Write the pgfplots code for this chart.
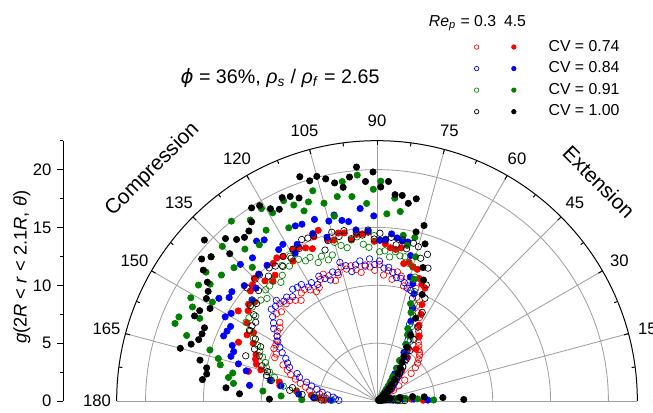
\documentclass[border=0pt]{standalone}
\usepackage{fontspec}
\setmainfont{Liberation Sans}
\newfontfamily\greekfont{DejaVu Sans}
\usepackage{pgfplots}
\usepackage{pgfplotstable}
\pgfplotsset{compat=1.18}

\definecolor{gridgray}{RGB}{160,160,160}
\definecolor{cvred}{RGB}{255,0,0}
\definecolor{cvblue}{RGB}{0,0,255}
\definecolor{cvgreen}{RGB}{0,128,0}

% g(2R < r < 2.1R, theta), theta in degrees (bin centres)
% lo = Re_p 0.3 (open marks), hi = Re_p 4.5 (filled marks)
% R: CV = 0.74, B: CV = 0.84, G: CV = 0.91, K: CV = 1.00
\pgfplotstableread{
t   Rlo  Rhi  Blo  Bhi  Glo  Ghi  Klo  Khi
1   2.0  4.0  1.8  4.4  2.2  4.9  2.4  7.5
3   1.6  3.0  1.4  3.2  1.7  3.5  1.8  5.7
5   1.2  2.2  1.1  2.3  1.3  2.5  1.4  4.1
7   0.9  1.5  0.8  1.5  1.0  1.7  1.0  3.1
9   0.7  1.0  0.6  1.0  0.7  1.1  0.8  2.0
11  0.5  0.65 0.45 0.6  0.5  0.7  0.6  1.2
13  0.4  0.45 0.35 0.4  0.4  0.45 0.45 0.7
15  0.3  0.3  0.3  0.3  0.3  0.3  0.35 0.45
17  0.25 0.25 0.25 0.2  0.25 0.25 0.3  0.3
19  0.2  0.2  0.2  0.2  0.2  0.2  0.25 0.25
21  0.2  0.2  0.2  0.15 0.2  0.2  0.2  0.2
23  0.25 0.2  0.2  0.15 0.2  0.15 0.2  0.2
25  0.3  0.2  0.25 0.15 0.25 0.15 0.25 0.2
27  0.5  0.25 0.3  0.2  0.3  0.2  0.3  0.25
29  0.8  0.3  0.4  0.2  0.35 0.2  0.35 0.3
31  1.2  0.35 0.5  0.2  0.4  0.25 0.45 0.3
33  1.7  0.4  0.6  0.25 0.5  0.3  0.55 0.35
35  2.3  0.5  0.8  0.3  0.6  0.3  0.7  0.4
37  3.0  0.9  1.0  0.35 0.7  0.35 0.85 0.5
39  3.8  1.6  1.2  0.4  0.85 0.4  1.0  0.6
41  4.4  1.3  1.5  0.45 1.0  0.5  1.2  0.75
43  4.8  1.7  1.8  0.55 1.2  0.55 1.5  0.95
45  5.1  2.0  2.1  0.65 1.4  0.65 1.8  1.2
47  5.4  2.3  2.4  0.8  1.7  0.8  2.2  1.5
49  5.6  2.9  2.8  1.0  2.0  1.0  2.6  1.9
51  5.7  3.4  3.2  1.3  2.4  1.3  3.1  2.4
53  6.0  5.6  3.7  1.7  2.9  1.6  3.7  3.0
55  6.2  4.6  4.2  2.2  3.4  2.0  4.4  3.5
57  6.6  6.7  4.6  2.8  4.0  2.5  5.2  4.0
59  7.0  5.3  5.0  3.3  4.8  3.3  6.2  4.5
61  7.4  7.5  5.4  4.8  5.9  4.0  7.3  5.3
63  8.1  8.4  5.9  5.5  6.3  5.5  8.6  6.4
65  8.4  9.2  6.3  6.6  7.1  6.3  9.8  7.9
67  9.0  10.6 7.2  7.5  8.0  6.8  10.9 10.0
69  9.6  10.8 8.6  8.6  9.0  8.2  12.3 11.2
71  10.3 11.2 9.4  9.8  10.0 8.9  13.4 12.2
73  10.0 11.9 10.0 10.6 11.2 11.0 12.9 14.2
75  10.6 12.0 10.1 11.1 12.0 12.9 13.8 15.7
77  10.2 12.3 10.5 12.9 12.2 14.5 14.0 15.0
79  11.0 12.1 10.8 14.0 12.7 13.7 13.4 17.8
81  11.3 13.4 10.8 14.0 12.7 14.5 14.1 17.3
83  10.6 13.2 11.2 14.2 13.0 16.5 13.6 17.9
85  11.3 13.3 11.6 14.5 12.5 17.6 14.2 17.9
87  10.9 13.6 11.5 14.0 13.0 16.2 13.9 19.0
89  11.8 13.9 12.1 13.9 12.9 19.0 14.5 18.5
91  11.3 13.8 11.8 16.0 14.3 18.3 14.0 19.8
93  11.6 14.6 12.3 14.7 13.3 17.1 14.8 19.0
95  11.8 14.5 11.7 16.7 13.6 19.6 14.4 20.3
97  11.2 14.5 12.2 14.9 14.3 17.8 14.7 19.5
99  11.5 14.1 11.9 15.7 14.1 19.2 14.2 18.7
101 11.9 14.8 11.4 15.9 13.5 18.0 15.0 19.2
103 11.7 14.9 12.0 16.5 13.8 16.4 14.6 19.7
105 12.0 14.4 12.4 16.1 14.2 17.7 15.1 20.1
107 11.4 14.6 11.6 14.8 13.2 19.0 14.5 19.9
109 11.0 15.6 11.8 16.6 12.9 18.2 13.8 20.5
111 11.6 15.2 11.2 15.5 13.4 17.6 15.3 18.8
113 11.9 14.3 11.5 16.6 13.0 18.4 15.3 19.2
115 11.6 14.6 11.9 16.7 13.7 19.1 15.4 19.4
117 11.0 14.9 11.3 15.2 13.6 16.8 14.8 18.6
119 10.8 15.0 11.7 14.6 14.0 18.6 15.0 19.0
121 11.2 14.1 11.5 15.8 14.6 19.4 14.4 19.7
123 11.5 14.9 12.0 15.6 13.9 17.6 14.9 19.9
125 11.4 15.1 12.0 17.0 14.3 19.1 14.2 18.9
127 10.9 14.9 12.1 17.3 13.6 16.9 14.6 18.4
129 11.2 14.0 11.6 15.1 13.2 20.0 14.8 18.2
131 11.5 13.7 11.9 16.4 13.8 17.4 14.3 18.5
133 11.5 14.2 11.8 15.0 13.6 15.8 14.9 19.2
135 11.9 15.0 12.3 16.7 13.6 18.9 14.9 18.0
137 11.3 14.7 12.0 14.3 13.0 16.9 14.0 20.4
139 11.5 14.5 12.1 15.2 13.3 19.0 14.9 19.0
141 10.8 13.6 11.6 13.9 13.8 17.3 13.4 19.5
143 10.5 13.9 11.2 15.7 13.5 18.5 13.7 18.8
145 10.5 13.6 10.9 15.6 12.8 17.6 13.0 17.9
147 10.3 14.3 10.3 16.3 13.2 18.4 12.5 17.4
149 10.1 13.1 10.0 14.7 13.2 16.6 12.6 17.2
151 10.0 12.2 9.6  15.0 12.5 18.4 12.6 16.5
153 10.0 12.6 9.2  14.2 12.0 17.9 11.8 17.2
155 9.6  11.8 8.7  14.3 11.4 16.9 11.1 17.4
157 9.6  13.0 8.4  14.4 11.0 18.6 11.5 16.2
159 8.7  11.2 8.1  13.4 10.6 18.7 10.9 16.2
161 8.2  11.1 7.3  13.1 10.2 17.4 12.0 16.3
163 7.8  10.9 7.0  13.2 10.0 15.1 10.4 16.8
165 7.3  10.4 6.3  12.4 9.6  14.2 9.8  17.6
167 6.8  11.4 5.8  11.6 9.1  13.9 9.8  15.7
169 6.3  8.6  5.3  9.4  9.4  12.7 9.3  15.0
171 5.9  8.5  4.8  8.4  8.2  13.0 7.4  14.9
173 5.0  7.0  4.3  11.1 7.0  12.5 7.6  15.2
175 4.6  5.7  3.8  6.8  5.5  9.9  6.5  13.1
177 4.4  5.1  3.6  5.5  4.6  8.3  5.4  11.9
179 4.6  4.5  3.3  4.0  3.9  6.5  4.8  9.3
}\gdata

\pgfplotsset{
  openpt/.style={only marks, data cs=polar, mark=o, mark size=1.95pt, line width=0.4pt, color=#1},
  fullpt/.style={only marks, data cs=polar, mark=*, mark size=1.9pt, color=#1, fill=#1},
}

\begin{document}
\begin{tikzpicture}
\begin{axis}[
  x=6.942pt, y=6.942pt,
  xmin=-27.11, xmax=23.85, ymin=0, ymax=22.5,
  axis x line=none,
  axis y line*=left,
  clip=false,
  ytick={0,5,10,15,20},
  minor ytick={2.5,7.5,12.5,17.5,22.5},
  ytick align=outside,
  major tick length=3.6pt,
  minor tick length=2pt,
  tick style={black, line width=0.6pt},
  axis line style={black, line width=0.6pt},
  /pgf/number format/assume math mode=true,
  yticklabel style={font=\fontsize{10}{12}\selectfont},
  ylabel={\textit{g}(2\textit{R} < \textit{r} < 2.1\textit{R}, \textit{θ})},
  ylabel style={font=\fontsize{11}{13}\selectfont, at={(axis cs:-30.7,11.55)}, anchor=center},
  legend columns=2,
  legend cell align=left,
  legend style={at={(axis cs:8.42,31.18)}, anchor=north west, draw=none, fill=none,
    inner sep=0pt, outer sep=0pt, row sep=4.8pt, column sep=0pt,
    font=\fontsize{9.5}{11}\selectfont, nodes={inner sep=0pt},
    /tikz/column 2/.style={column sep=18.6pt},
    /tikz/column 3/.style={column sep=19.5pt}},
  every axis plot post/.append style={legend image code/.code={\draw[##1, mark size=1.35pt] plot coordinates {(0pt,0pt)};}},
]

% polar grid: circles, spokes, base line
\pgfplotsinvokeforeach{5,10,15,20}{
  \draw[gridgray, line width=0.5pt] (axis cs:#1,0) arc[start angle=0, end angle=180, radius=#1*6.942pt];
}
\pgfplotsinvokeforeach{15,30,45,60,75,90,105,120,135,150,165}{
  \draw[gridgray, line width=0.5pt] (axis cs:0,0) -- (axis cs:{22.5*cos(#1)},{22.5*sin(#1)});
  \draw[black, line width=0.6pt] (axis cs:{22.5*cos(#1)},{22.5*sin(#1)}) -- (axis cs:{22.1*cos(#1)},{22.1*sin(#1)});
}
\pgfplotsinvokeforeach{7.5,22.5,37.5,52.5,67.5,82.5,97.5,112.5,127.5,142.5,157.5,172.5}{
  \draw[black, line width=0.6pt] (axis cs:{22.5*cos(#1)},{22.5*sin(#1)}) -- (axis cs:{22.2*cos(#1)},{22.2*sin(#1)});
}
\draw[gridgray, line width=0.5pt] (axis cs:-22.5,0) -- (axis cs:22.5,0);
\draw[black, line width=0.6pt] (axis cs:22.5,0) arc[start angle=0, end angle=180, radius=22.5*6.942pt];

% angle labels
\pgfplotsinvokeforeach{0,15,30,45,60,75,90,105,120,135,150,165,180}{
  \node[font=\fontsize{10}{12}\selectfont] at (axis cs:{24.2*cos(#1)},{24.2*sin(#1)}) {#1};
}

\addplot[openpt=cvred]   table[x=t, y=Rlo] {\gdata}; \addlegendentry{}
\addplot[fullpt=cvred]   table[x=t, y=Rhi] {\gdata}; \addlegendentry{CV = 0.74}
\addplot[openpt=cvblue]  table[x=t, y=Blo] {\gdata}; \addlegendentry{}
\addplot[fullpt=cvblue]  table[x=t, y=Bhi] {\gdata}; \addlegendentry{CV = 0.84}
\addplot[openpt=cvgreen] table[x=t, y=Glo] {\gdata}; \addlegendentry{}
\addplot[fullpt=cvgreen] table[x=t, y=Ghi] {\gdata}; \addlegendentry{CV = 0.91}
\addplot[openpt=black]   table[x=t, y=Klo] {\gdata}; \addlegendentry{}
\addplot[fullpt=black]   table[x=t, y=Khi] {\gdata}; \addlegendentry{CV = 1.00}

% annotations
\node[font=\fontsize{11.8}{13}\selectfont, anchor=base] at (axis cs:-8.38,27.45)
  {{\greekfont\itshape ϕ} = 36\%, \textit{ρ}\textsubscript{\textit{s}} / \textit{ρ}\textsubscript{\textit{f}} = 2.65};
\node[font=\fontsize{9.5}{11}\selectfont, anchor=base west] at (axis cs:3.98,32.35)
  {\textit{Re}\textsubscript{\textit{p}} = 0.3};
\node[font=\fontsize{9.5}{11}\selectfont, anchor=base] at (axis cs:11.93,32.35) {4.5};
\node[font=\fontsize{12.5}{14}\selectfont, rotate=45] at (axis cs:-19.4,20.0) {Compression};
\node[font=\fontsize{12.5}{14}\selectfont, rotate=-45] at (axis cs:19.19,18.93) {Extension};

\coordinate (bbsw) at (axis cs:-32.584,-0.951);
\coordinate (bbne) at (axis cs:23.855,34.659);
\end{axis}
\pgfresetboundingbox
\useasboundingbox (bbsw) rectangle (bbne);
\end{tikzpicture}
\end{document}
